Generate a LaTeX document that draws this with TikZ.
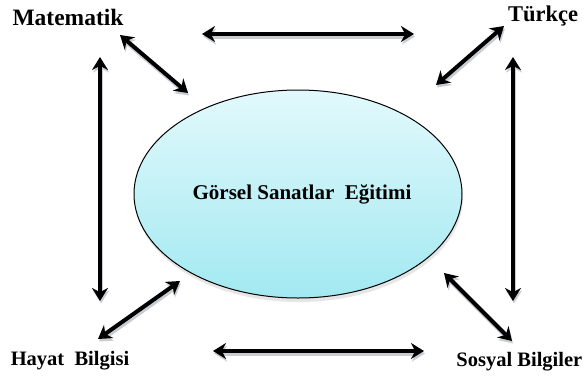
\documentclass[tikz,border=0pt]{standalone}
\usepackage{fontspec}
\setmainfont{Liberation Serif}[BoldFont={Liberation Serif Bold}]
\usetikzlibrary{arrows.meta,shapes.geometric,shadows}
\definecolor{ovaltop}{HTML}{E2F9FC}
\definecolor{ovalbot}{HTML}{A2E9F1}
\definecolor{shade}{HTML}{C9CDD2}
\tikzset{
  subj/.style={font=\bfseries\fontsize{21}{24}\selectfont,inner sep=0pt},
  link/.style={{Stealth[length=13pt,width=16pt]}-{Stealth[length=13pt,width=16pt]},line width=4pt,
    preaction={draw=shade,line width=4.5pt,transform canvas={yshift=-2.5pt,xshift=1pt}}},
}

\begin{document}
\begin{tikzpicture}[x=1pt,y=-1pt]
  \useasboundingbox (0,0) rectangle (584,376);
  % central oval
  \node[ellipse,draw,line width=1pt,minimum width=328pt,minimum height=208pt,inner sep=0pt,
    top color=ovaltop,bottom color=ovalbot,
    drop shadow={opacity=0.2,shadow xshift=1pt,shadow yshift=-4pt},
    font=\bfseries\fontsize{21}{24}\selectfont] (gse) at (298,194) {\hspace{8pt}Görsel Sanatlar\ \ Eğitimi};
  % subjects
  \node[subj,font=\bfseries\fontsize{23.5}{28}\selectfont] (mat) at (68,17) {Matematik};
  \node[subj,font=\bfseries\fontsize{22.5}{26}\selectfont] (tur) at (543,16) {Türkçe};
  \node[subj,font=\bfseries\fontsize{20.5}{24}\selectfont] (hay) at (70,361) {Hayat\ \ Bilgisi};
  \node[subj,font=\bfseries\fontsize{20.5}{24}\selectfont,anchor=east] (sos) at (582.5,362) {Sosyal Bilgiler};
  % arrow ends
  \coordinate (t1) at (202,34);  \coordinate (t2) at (414,34);
  \coordinate (b1) at (213,351); \coordinate (b2) at (424,351);
  \coordinate (l1) at (100,57);  \coordinate (l2) at (100,301);
  \coordinate (r1) at (513,57);  \coordinate (r2) at (513,301);
  \coordinate (m1) at (120,35);  \coordinate (m2) at (188,93);
  \coordinate (k1) at (504,26);  \coordinate (k2) at (436,85);
  \coordinate (h1) at (180,281); \coordinate (h2) at (98,339);
  \coordinate (s1) at (444,273); \coordinate (s2) at (512,341);
  \draw[link] (t1) -- (t2);
  \draw[link] (b1) -- (b2);
  \draw[link] (l1) -- (l2);
  \draw[link] (r1) -- (r2);
  \draw[link] (m1) -- (m2);
  \draw[link] (k1) -- (k2);
  \draw[link] (h1) -- (h2);
  \draw[link] (s1) -- (s2);
\end{tikzpicture}
\end{document}
